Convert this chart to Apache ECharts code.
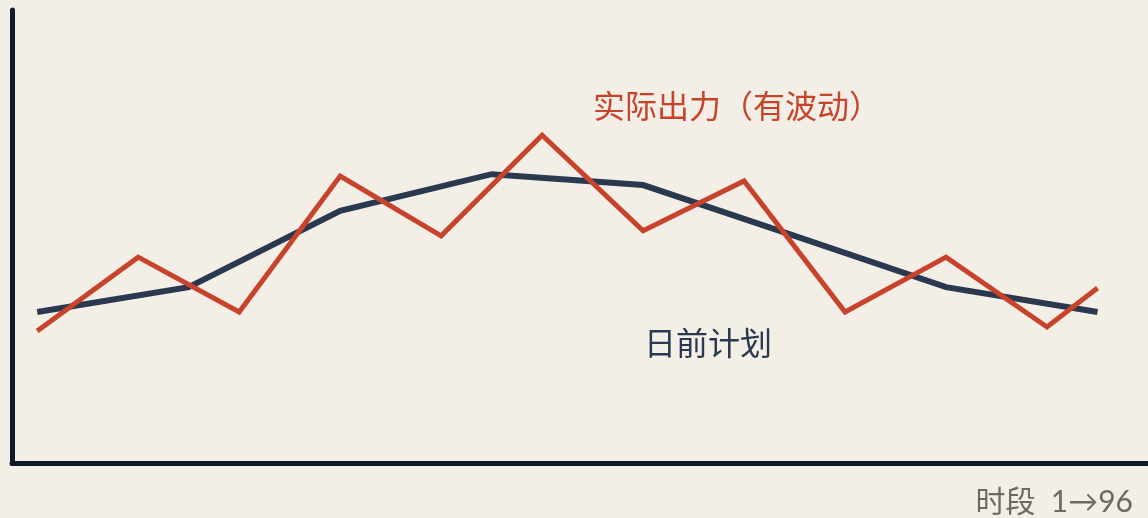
<!DOCTYPE html>
<html>
<head>
<meta charset="utf-8">
<style>
  html, body { margin: 0; padding: 0; background: #f3efe6; }
  #chart { width: 1148px; height: 518px; }
</style>
<script src="https://cdn.jsdelivr.net/npm/echarts@6/dist/echarts.min.js"></script>
</head>
<body>
<div id="chart"></div>
<script>
// Day-ahead schedule vs. actual output, in relative units over the day's slots
const planX = [0, 3, 6, 9, 12, 15, 18, 21];
const planY = [33.4, 38.9, 55.7, 63.8, 61.4, 50.2, 38.9, 33.4];

const actualX = [0, 2, 4, 6, 8, 10, 12, 14, 16, 18, 20, 21];
const actualY = [29.2, 45.5, 33.4, 63.4, 50.2, 72.4, 51.3, 62.3, 33.4, 45.5, 30.1, 38.7];

const planLabel = '日前计划';
const actualLabel = '实际出力（有波动）';
const axisLabel = '时段  1→96';

const pairs = (xs, ys) => xs.map((x, i) => [x, ys[i]]);

const BG = '#f3efe6';
const NAVY = '#2a3850';
const RED = '#c8432b';
const AXIS = '#111a2b';
const FONT = 'Lato, "Noto Sans CJK SC", sans-serif';

const chart = echarts.init(document.getElementById('chart'));
chart.setOption({
  backgroundColor: BG,
  animation: false,
  grid: { left: 12, right: 0, top: 10, bottom: 54.5 },
  xAxis: {
    type: 'value',
    min: -0.5,
    max: 22,
    axisLine: { show: true, onZero: false, lineStyle: { color: AXIS, width: 5 } },
    axisTick: { show: false },
    axisLabel: { show: false },
    splitLine: { show: false }
  },
  yAxis: {
    type: 'value',
    min: 0,
    max: 100,
    axisLine: { show: true, onZero: false, lineStyle: { color: AXIS, width: 5 } },
    axisTick: { show: false },
    axisLabel: { show: false },
    splitLine: { show: false }
  },
  series: [
    {
      name: planLabel,
      type: 'line',
      data: pairs(planX, planY),
      symbol: 'none',
      lineStyle: { color: NAVY, width: 6, join: 'miter' },
      z: 2
    },
    {
      name: actualLabel,
      type: 'line',
      data: pairs(actualX, actualY),
      symbol: 'none',
      lineStyle: { color: RED, width: 5, join: 'miter' },
      z: 3
    }
  ],
  graphic: [
    {
      type: 'text',
      left: 593,
      top: 92,
      style: { text: actualLabel, fill: RED, font: '32px ' + FONT }
    },
    {
      type: 'text',
      left: 644,
      top: 329,
      style: { text: planLabel, fill: NAVY, font: '32px ' + FONT }
    },
    {
      type: 'text',
      right: 15,
      top: 487,
      style: { text: axisLabel, fill: '#6e6a62', font: '30px ' + FONT }
    }
  ]
});
</script>
</body>
</html>
